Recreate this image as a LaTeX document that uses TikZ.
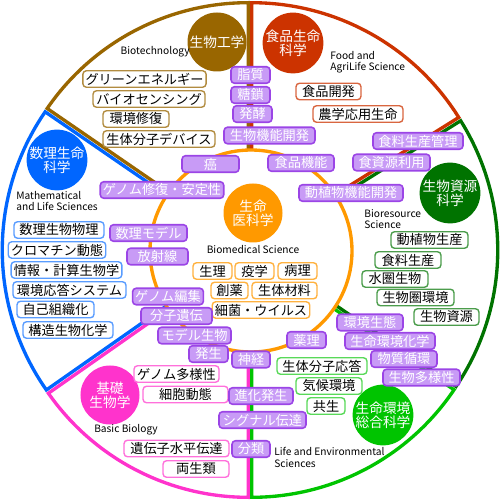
\documentclass[tikz,border=0pt]{standalone}
\usepackage{fontspec}
\setmainfont{Noto Sans CJK JP}
\usepackage{tikz}

\definecolor{bioBrown}{HTML}{996600}
\definecolor{foodRed}{HTML}{CC3300}
\definecolor{resGreen}{HTML}{007300}
\definecolor{envGreen}{HTML}{00C400}
\definecolor{basicPink}{HTML}{FF33CC}
\definecolor{mathBlue}{HTML}{0066FF}
\definecolor{medOrange}{HTML}{FF9900}
\definecolor{purpFill}{HTML}{C89BF6}
\definecolor{purpLine}{HTML}{9B45E6}

\begin{document}
\begin{tikzpicture}[
  sector/.style={line width=1.9pt, line join=miter},
  fieldcirc/.style={
    circle, minimum size=1.18cm, inner sep=0pt, text=white,
    align=center, font=\fontsize{7.8}{8}\selectfont
  },
  enlabel/.style={
    font=\fontsize{5.8}{6.4}\selectfont, align=left, inner sep=0pt
  },
  wbox/.style={
    draw=#1, fill=white, rounded corners=2pt, line width=0.8pt,
    minimum height=0.33cm, inner xsep=1.5pt, inner ysep=0pt,
    font=\fontsize{7.5}{7.5}\selectfont, text=black
  },
  pbox/.style={
    draw=purpLine, fill=purpFill, rounded corners=2pt, line width=0.9pt,
    minimum height=0.33cm, inner xsep=1.5pt, inner ysep=0pt,
    font=\fontsize{7.5}{7.5}\selectfont, text=white
  }
]
\useasboundingbox (-5,-5) rectangle (5,5);

% ── Sectors (exploded pie) ──────────────────────────────────
\draw[sector, bioBrown, shift={(117.75:0.075)}] (0,0) -- (90:4.88)
    arc[start angle=90, end angle=145.5, radius=4.88] -- cycle;
\draw[sector, mathBlue, shift={(180.25:0.075)}] (0,0) -- (145.5:4.88)
    arc[start angle=145.5, end angle=215, radius=4.88] -- cycle;
\draw[sector, basicPink, shift={(242.5:0.075)}] (0,0) -- (215:4.88)
    arc[start angle=215, end angle=270, radius=4.88] -- cycle;
\draw[sector, envGreen, shift={(298:0.075)}] (0,0) -- (270:4.88)
    arc[start angle=270, end angle=326, radius=4.88] -- cycle;
\draw[sector, resGreen, shift={(-1:0.075)}] (0,0) -- (-34:4.88)
    arc[start angle=-34, end angle=32, radius=4.88] -- cycle;
\draw[sector, foodRed, shift={(61:0.075)}] (0,0) -- (32:4.88)
    arc[start angle=32, end angle=90, radius=4.88] -- cycle;

% ── Biomedical ring ─────────────────────────────────────────
\draw[medOrange, line width=1.9pt, fill=white] (0.02,-0.02) circle[radius=2.02];

% ── Field circles ───────────────────────────────────────────
\node[fieldcirc, fill=bioBrown] (bioTech) at (-0.66,4.16) {生物工学};
\node[fieldcirc, fill=foodRed] (foodLife) at (0.86,4.14) {食品生命\\科学};
\node[fieldcirc, fill=resGreen] (bioRes) at (4.0,1.14) {生物資源\\科学};
\node[fieldcirc, fill=envGreen] (lifeEnv) at (2.66,-3.3) {生命環境\\総合科学};
\node[fieldcirc, fill=basicPink] (basicBio) at (-2.8,-2.9) {基礎\\生物学};
\node[fieldcirc, fill=mathBlue] (mathLife) at (-3.86,1.8) {数理生命\\科学};
\node[fieldcirc, fill=medOrange] (bioMed) at (0.06,0.74) {生命\\医科学};

% ── English names ───────────────────────────────────────────
\node[enlabel, anchor=east] (bioTechEn) at (-1.2,3.96) {Biotechnology};
\node[enlabel, anchor=west] (foodLifeEn) at (1.6,3.76) {Food and\\AgriLife Science};
\node[enlabel, anchor=west] (bioResEn) at (2.28,0.62) {Bioresource\\Science};
\node[enlabel, anchor=west] (lifeEnvEn) at (0.48,-4.15) {Life and Environmental\\Sciences};
\node[enlabel] (basicBioEn) at (-2.48,-3.6) {Basic Biology};
\node[enlabel, anchor=west] (mathLifeEn) at (-4.68,0.98) {Mathematical\\and Life Sciences};
\node[enlabel] (bioMedEn) at (0.06,0) {Biomedical Science};

% ── Biotechnology topics ────────────────────────────────────
\node[wbox=bioBrown!75, minimum width=2.38cm] (greenEnergy) at (-2.11,3.42) {グリーンエネルギー};
\node[wbox=bioBrown!75, minimum width=2.24cm] (bioSensing) at (-2.02,3.02) {バイオセンシング};
\node[wbox=bioBrown!75, minimum width=1.32cm] (envRepair) at (-2.28,2.62) {環境修復};
\node[wbox=bioBrown!75, minimum width=2.24cm] (bioDevice) at (-1.82,2.22) {生体分子デバイス};

% ── Food and AgriLife topics ────────────────────────────────
\node[wbox=foodRed!75, minimum width=1.3cm] (foodDev) at (1.57,3.17) {食品開発};
\node[wbox=foodRed!75, minimum width=1.8cm] (agriLife) at (2.16,2.72) {農学応用生命};

% ── Bioresource topics ──────────────────────────────────────
\node[wbox=resGreen!70, minimum width=1.54cm] (plantProd) at (3.59,0.2) {動植物生産};
\node[wbox=resGreen!70, minimum width=1.32cm] (foodProd) at (3.16,-0.2) {食料生産};
\node[wbox=resGreen!70, minimum width=1.32cm] (aquaBio) at (2.9,-0.58) {水圏生物};
\node[wbox=resGreen!70, minimum width=1.54cm] (biosphere) at (3.31,-0.95) {生物圏環境};
\node[wbox=resGreen!70, minimum width=1.3cm] (bioResource) at (3.93,-1.34) {生物資源};

% ── Mathematical topics ─────────────────────────────────────
\node[wbox=mathBlue!65, minimum width=1.8cm] (mathBiophys) at (-3.82,0.4) {数理生物物理};
\node[wbox=mathBlue!65, minimum width=1.92cm] (chromatin) at (-3.86,0.0) {クロマチン動態};
\node[wbox=mathBlue!65, minimum width=2.18cm] (compBio) at (-3.67,-0.4) {情報・計算生物学};
\node[wbox=mathBlue!65, minimum width=2.26cm] (envResponse) at (-3.61,-0.8) {環境応答システム};
\node[wbox=mathBlue!65, minimum width=1.54cm] (selfOrg) at (-3.89,-1.19) {自己組織化};
\node[wbox=mathBlue!65, minimum width=1.8cm] (structBio) at (-3.64,-1.6) {構造生物化学};

% ── Basic Biology topics ────────────────────────────────────
\node[wbox=basicPink!70, minimum width=1.7cm] (genomeDiv) at (-1.47,-2.48) {ゲノム多様性};
\node[wbox=basicPink!70, minimum width=1.7cm] (cellDyn) at (-1.29,-2.89) {細胞動態};
\node[wbox=basicPink!70, minimum width=2.1cm] (hgt) at (-1.47,-3.97) {遺伝子水平伝達};
\node[wbox=basicPink!70, minimum width=1.32cm] (amphibia) at (-1.08,-4.38) {両生類};

% ── Life and Environmental topics ───────────────────────────
\node[wbox=envGreen!65, minimum width=1.8cm] (bioMolResp) at (1.44,-2.32) {生体分子応答};
\node[wbox=envGreen!65, minimum width=1.32cm] (climate) at (1.58,-2.72) {気候環境};
\node[wbox=envGreen!65, minimum width=0.76cm] (symbiosis) at (1.52,-3.12) {共生};

% ── Biomedical topics ───────────────────────────────────────
\node[wbox=medOrange!75, minimum width=0.78cm] (physiol) at (-0.75,-0.42) {生理};
\node[wbox=medOrange!75, minimum width=0.78cm] (epidem) at (0.09,-0.42) {疫学};
\node[wbox=medOrange!75, minimum width=0.78cm] (pathol) at (0.95,-0.42) {病理};
\node[wbox=medOrange!75, minimum width=0.74cm] (drugDisc) at (-0.41,-0.81) {創薬};
\node[wbox=medOrange!75, minimum width=1.3cm] (biomat) at (0.69,-0.81) {生体材料};
\node[wbox=medOrange!75, minimum width=1.84cm] (microbe) at (0.22,-1.2) {細菌・ウイルス};

% ── Shared topics (purple) ──────────────────────────────────
\node[pbox, minimum width=0.78cm] (lipid) at (0.01,3.5) {脂質};
\node[pbox, minimum width=0.78cm] (glycan) at (0.01,3.1) {糖鎖};
\node[pbox, minimum width=0.78cm] (ferment) at (0.05,2.72) {発酵};
\node[pbox, minimum width=1.82cm] (bioFuncDev) at (0.39,2.29) {生物機能開発};
\node[pbox, minimum width=1.14cm] (cancer) at (-0.79,1.72) {癌};
\node[pbox, minimum width=1.32cm] (foodFunc) at (1.02,1.74) {食品機能};
\node[pbox, minimum width=1.8cm] (foodMgmt) at (3.36,2.18) {食料生産管理};
\node[pbox, minimum width=1.54cm] (foodRes) at (2.83,1.75) {食資源利用};
\node[pbox, minimum width=2.08cm] (plantFunc) at (2.02,1.14) {動植物機能開発};
\node[pbox, minimum width=2.36cm] (genomeRepair) at (-1.76,1.2) {ゲノム修復・安定性};
\node[pbox, minimum width=1.54cm] (mathModel) at (-2.03,0.34) {数理モデル};
\node[pbox, minimum width=1.22cm] (radiation) at (-1.85,-0.13) {放射線};
\node[pbox, minimum width=1.4cm] (genomeEdit) at (-1.64,-0.93) {ゲノム編集};
\node[pbox, minimum width=1.42cm] (molGenet) at (-1.47,-1.32) {分子遺伝};
\node[pbox, minimum width=1.46cm] (modelOrg) at (-1.11,-1.71) {モデル生物};
\node[pbox, minimum width=0.78cm] (develop) at (-0.83,-2.08) {発生};
\node[pbox, minimum width=0.76cm] (neuro) at (0.02,-2.19) {神経};
\node[pbox, minimum width=0.78cm] (pharma) at (1.13,-1.8) {薬理};
\node[pbox, minimum width=1.32cm] (envEco) at (2.4,-1.45) {環境生態};
\node[pbox, minimum width=1.8cm] (envChem) at (2.8,-1.82) {生命環境化学};
\node[pbox, minimum width=1.32cm] (matCycle) at (3.08,-2.18) {物質循環};
\node[pbox, minimum width=1.54cm] (biodiv) at (3.43,-2.55) {生物多様性};
\node[pbox, minimum width=1.28cm] (evoDevo) at (0.22,-2.92) {進化発生};
\node[pbox, minimum width=1.74cm] (signal) at (0.25,-3.4) {シグナル伝達};
\node[pbox, minimum width=0.76cm] (taxonomy) at (0.02,-3.98) {分類};

\end{tikzpicture}
\end{document}
